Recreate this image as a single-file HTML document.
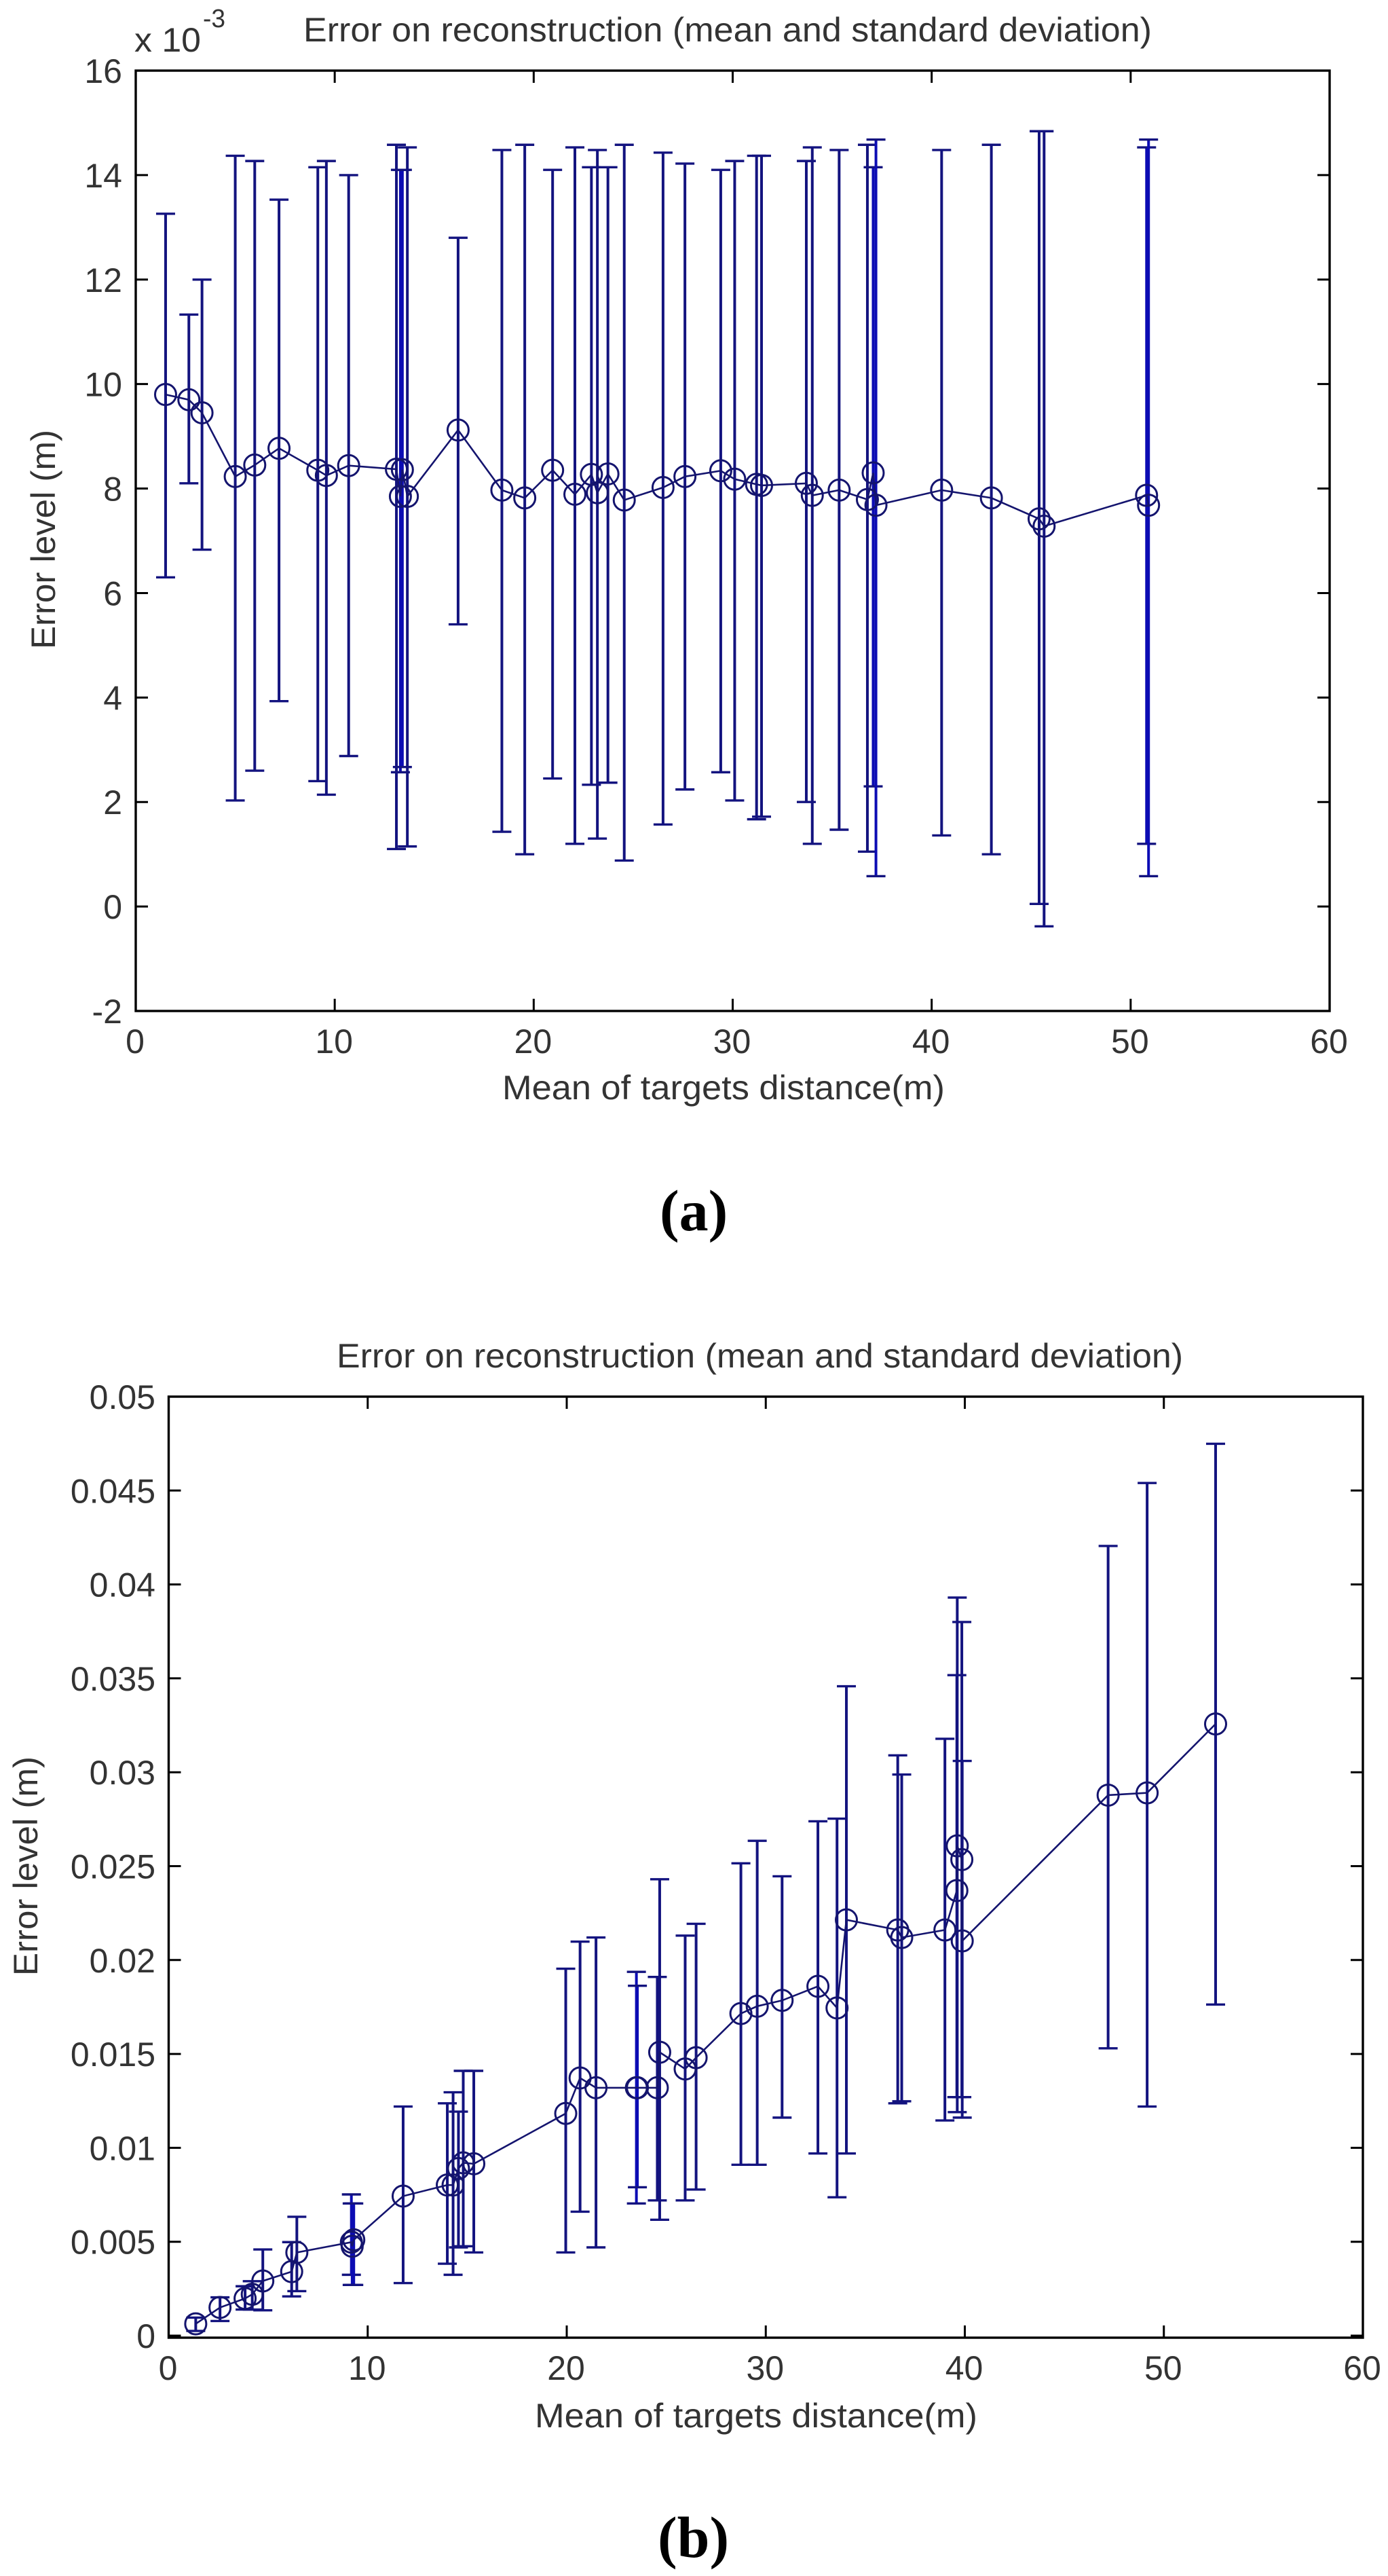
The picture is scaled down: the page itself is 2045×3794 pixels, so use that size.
<!DOCTYPE html>
<html lang="en">
<head>
<meta charset="utf-8">
<title>Error on reconstruction charts</title>
<style>
  html, body { margin: 0; padding: 0; background: #ffffff; }
  body { width: 2045px; height: 3794px; overflow: hidden; }
  svg { display: block; }
  .t { font-family: "Liberation Sans", Arial, sans-serif; fill: #333333; }
  .p { font-family: "Liberation Serif", "Times New Roman", serif; font-weight: bold; fill: #000; font-size: 86px; }
</style>
</head>
<body>
<svg id="figure" xmlns="http://www.w3.org/2000/svg" width="2045" height="3794" viewBox="0 0 2045 3794">
  <rect x="0" y="0" width="2045" height="3794" fill="#ffffff"/>

  <g id="chart-a"></g>
  <text class="t" x="447" y="61" font-size="50" textLength="1250" lengthAdjust="spacingAndGlyphs">Error on reconstruction (mean and standard deviation)</text>
  <text class="t" x="198" y="76" font-size="50" textLength="98" lengthAdjust="spacingAndGlyphs">x 10</text>
  <text class="t" x="299" y="40" font-size="38" textLength="33" lengthAdjust="spacingAndGlyphs">-3</text>
  <text class="t" x="740" y="1619" font-size="50" textLength="652" lengthAdjust="spacingAndGlyphs">Mean of targets distance(m)</text>
  <text class="t" transform="translate(81 956) rotate(-90)" font-size="50" textLength="323" lengthAdjust="spacingAndGlyphs">Error level (m)</text>
  <text class="p" x="972" y="1812">(a)</text>

  <g id="chart-b"></g>
  <text class="t" x="496" y="2014" font-size="50" textLength="1247" lengthAdjust="spacingAndGlyphs">Error on reconstruction (mean and standard deviation)</text>
  <text class="t" x="788" y="3575" font-size="50" textLength="652" lengthAdjust="spacingAndGlyphs">Mean of targets distance(m)</text>
  <text class="t" transform="translate(55 2910) rotate(-90)" font-size="50" textLength="323" lengthAdjust="spacingAndGlyphs">Error level (m)</text>
  <text class="p" x="969" y="3766">(b)</text>
</svg>

<script>
/* Chart A data: distance (m); error values in units of 1e-3 m */
const aDistance = [1.5,2.67,3.33,5,5.98,7.2,9.15,9.58,10.7,13.1,13.3,13.4,13.65,16.2,18.4,19.55,20.95,22.07,22.9,23.2,23.73,24.55,26.5,27.6,29.4,30.1,31.2,31.45,33.7,34,35.35,36.77,37.06,37.2,40.5,43,45.4,45.65,50.8,50.9];
const aMean = [9.8,9.7,9.45,8.23,8.45,8.77,8.35,8.25,8.44,8.37,7.85,8.36,7.85,9.12,7.97,7.82,8.35,7.89,8.27,7.92,8.28,7.78,8.02,8.23,8.34,8.18,8.08,8.06,8.1,7.87,7.97,7.79,8.3,7.68,7.97,7.82,7.42,7.28,7.87,7.68];
const aUpper = [13.26,11.33,12,14.37,14.27,13.53,14.15,14.27,14,14.58,14.1,14.1,14.53,12.8,14.48,14.58,14.1,14.53,14.15,14.48,14.15,14.58,14.43,14.22,14.1,14.27,14.37,14.37,14.27,14.53,14.48,14.58,14.15,14.68,14.48,14.58,14.84,14.84,14.53,14.68];
const aLower = [6.3,8.1,6.83,2.03,2.6,3.93,2.4,2.14,2.88,1.1,2.57,2.67,1.15,5.4,1.43,1,2.45,1.2,2.33,1.3,2.37,0.88,1.57,2.24,2.57,2.03,1.67,1.72,2,1.2,1.47,1.05,2.3,0.58,1.36,1,0.05,-0.38,1.2,0.58];
const aXTickValues = [0,10,20,30,40,50,60];
const aXTickLabels = ['0','10','20','30','40','50','60'];
const aYTickValues = [-2,0,2,4,6,8,10,12,14,16];
const aYTickLabels = ['-2','0','2','4','6','8','10','12','14','16'];

/* Chart B data: distance (m); error values in units of 1e-3 m */
const bDistance = [1.36,2.58,3.84,4.2,4.73,6.18,6.44,9.18,9.22,9.3,11.78,14,14.29,14.56,14.8,15.33,19.95,20.67,21.47,23.5,23.55,24.55,24.67,25.95,26.5,28.75,29.57,30.82,32.62,33.58,34.05,36.63,36.83,39,39.6,39.62,39.85,39.87,47.2,49.16,52.6];
const bMean = [0.63,1.5,1.98,2.2,2.91,3.41,4.43,4.98,4.76,5.1,7.43,8.02,8.02,8.9,9.2,9.15,11.83,13.72,13.2,13.2,13.2,13.2,15.09,14.2,14.8,17.15,17.54,17.85,18.6,17.45,22.14,21.6,21.2,21.6,23.7,26.08,25.35,21.02,28.78,28.9,32.57];
const bUpper = [0.96,2.04,2.63,2.9,4.59,4.98,6.33,7.52,7.04,7.04,12.2,12.37,12.96,11.93,14.1,14.1,19.54,20.98,21.2,19.37,18.63,19.1,24.3,21.3,21.93,25.15,26.35,24.46,27.39,27.53,34.58,30.9,29.88,31.78,35.17,39.3,38,30.6,42.05,45.4,47.49];
const bLower = [0.25,0.78,1.39,1.39,1.35,2.09,2.37,3.24,2.7,2.7,2.8,3.83,3.24,4.7,4.76,4.43,4.43,6.6,4.7,7.04,7.9,7.2,6.17,7.2,7.78,9.1,9.1,11.61,9.7,7.37,9.7,12.37,12.48,11.46,12.7,11.9,12.7,11.61,15.3,12.2,17.63];
const bXTickValues = [0,10,20,30,40,50,60];
const bXTickLabels = ['0','10','20','30','40','50','60'];
const bYTickValues = [0,5,10,15,20,25,30,35,40,45,50];
const bYTickLabels = ['0','0.005','0.01','0.015','0.02','0.025','0.03','0.035','0.04','0.045','0.05'];

const SVG_NS = 'http://www.w3.org/2000/svg';
const BAR_COLOR = '#13137f';
const OVERLAP_COLOR = '#0c0cb4';
const MARK_COLOR = '#14146e';

function mk(tag, attrs) {
  const el = document.createElementNS(SVG_NS, tag);
  for (const k in attrs) el.setAttribute(k, attrs[k]);
  return el;
}

function drawChart(root, box, xs, means, uppers, lowers, xTicks, xLabels, yTicks, yLabels) {
  const xOf = v => box.left + (v - box.xMin) / (box.xMax - box.xMin) * (box.right - box.left);
  const yOf = v => box.yZero + (v - box.yMin) / (box.yMax - box.yMin) * (box.top - box.yZero);

  // series: error bars (bars almost on top of each other read as brighter blue)
  xs.forEach((x, i) => {
    const px = xOf(x);
    const near = xs.some((o, j) => j !== i && Math.abs(o - x) <= 0.15 && Math.abs(means[j] - means[i]) < 1);
    const barColor = near ? OVERLAP_COLOR : BAR_COLOR;
    const stem = mk('line', {x1: px, x2: px, y1: yOf(uppers[i]), y2: yOf(lowers[i]), stroke: barColor, 'stroke-width': 4});
    
    
    root.appendChild(stem);

    const capTop = mk('line', {x1: px - 14, x2: px + 14, y1: yOf(uppers[i]), y2: yOf(uppers[i]), stroke: BAR_COLOR, 'stroke-width': 3.4});
    
    
    root.appendChild(capTop);

    const capBottom = mk('line', {x1: px - 14, x2: px + 14, y1: yOf(lowers[i]), y2: yOf(lowers[i]), stroke: BAR_COLOR, 'stroke-width': 3.4});
    
    
    root.appendChild(capBottom);
  });

  // series: mean line
  const pts = xs.map((x, i) => xOf(x).toFixed(1) + ',' + yOf(means[i]).toFixed(1)).join(' ');
  const line = mk('polyline', {points: pts, fill: 'none', stroke: MARK_COLOR, 'stroke-width': 2.6});
  
  
  root.appendChild(line);

  // series: mean markers
  xs.forEach((x, i) => {
    const dot = mk('circle', {cx: xOf(x), cy: yOf(means[i]), r: 15.5, fill: 'none', stroke: MARK_COLOR, 'stroke-width': 3});
    
    
    root.appendChild(dot);
  });

  // axes frame
  const frame = mk('rect', {x: box.left, y: box.top, width: box.right - box.left, height: box.bottom - box.top, fill: 'none', stroke: '#000', 'stroke-width': 3.4});
  
  
  root.appendChild(frame);

  // x ticks and labels
  xTicks.forEach((v, i) => {
    const px = xOf(v);
    const tb = mk('line', {x1: px, x2: px, y1: box.bottom, y2: box.bottom - 18, stroke: '#000', 'stroke-width': 3});
    
    
    root.appendChild(tb);

    const tt = mk('line', {x1: px, x2: px, y1: box.top, y2: box.top + 18, stroke: '#000', 'stroke-width': 3});
    
    
    root.appendChild(tt);

    const lab = mk('text', {x: px - 1, y: box.xLabelY, 'text-anchor': 'middle', 'font-size': 50, class: 't'});
    
    
    lab.textContent = xLabels[i];
    root.appendChild(lab);
  });

  // y ticks and labels
  yTicks.forEach((v, i) => {
    const py = yOf(v);
    const tl = mk('line', {x1: box.left, x2: box.left + 18, y1: py, y2: py, stroke: '#000', 'stroke-width': 3});
    
    
    root.appendChild(tl);

    const tr = mk('line', {x1: box.right, x2: box.right - 18, y1: py, y2: py, stroke: '#000', 'stroke-width': 3});
    
    
    root.appendChild(tr);

    const lab = mk('text', {x: box.yLabelX, y: py + 18, 'text-anchor': 'end', 'font-size': 50, class: 't'});
    
    
    lab.textContent = yLabels[i];
    root.appendChild(lab);
  });
}

drawChart(document.getElementById('chart-a'),
  {left: 200, right: 1959, top: 104, bottom: 1489, yZero: 1489, xMin: 0, xMax: 60, yMin: -2, yMax: 16, xLabelY: 1551, yLabelX: 180},
  aDistance, aMean, aUpper, aLower, aXTickValues, aXTickLabels, aYTickValues, aYTickLabels);

drawChart(document.getElementById('chart-b'),
  {left: 248.5, right: 2008, top: 2057, bottom: 3443, yZero: 3440, xMin: 0, xMax: 60, yMin: 0, yMax: 50, xLabelY: 3505, yLabelX: 229},
  bDistance, bMean, bUpper, bLower, bXTickValues, bXTickLabels, bYTickValues, bYTickLabels);
</script>
</body>
</html>
